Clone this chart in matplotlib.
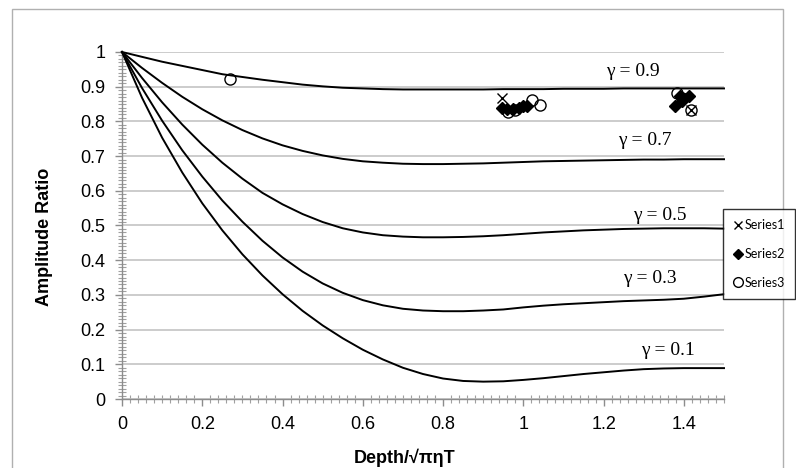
import matplotlib
matplotlib.use("Agg")
import matplotlib.pyplot as plt
from matplotlib.lines import Line2D
from matplotlib.patches import Rectangle
from matplotlib.ticker import MultipleLocator

# normalised depth and amplitude ratio for each gamma curve
depth = [0.00, 0.05, 0.10, 0.15, 0.20, 0.25, 0.30, 0.35, 0.40, 0.45, 0.50,
         0.55, 0.60, 0.65, 0.70, 0.75, 0.80, 0.85, 0.90, 0.95, 1.00,
         1.05, 1.10, 1.15, 1.20, 1.25, 1.30, 1.35, 1.40, 1.45, 1.50]
ratio_g09 = [1.000, 0.986, 0.972, 0.960, 0.948, 0.936, 0.928, 0.920, 0.913, 0.906, 0.901,
             0.897, 0.895, 0.893, 0.892, 0.892, 0.892, 0.892, 0.892, 0.893, 0.893,
             0.893, 0.894, 0.894, 0.894, 0.895, 0.895, 0.895, 0.895, 0.895, 0.895]
ratio_g07 = [1.000, 0.954, 0.911, 0.871, 0.835, 0.803, 0.775, 0.751, 0.731, 0.715, 0.702,
             0.692, 0.685, 0.681, 0.678, 0.677, 0.677, 0.678, 0.679, 0.681, 0.683,
             0.685, 0.686, 0.687, 0.688, 0.689, 0.690, 0.690, 0.691, 0.691, 0.691]
ratio_g05 = [1.000, 0.925, 0.855, 0.791, 0.733, 0.681, 0.635, 0.594, 0.561, 0.533, 0.510,
             0.492, 0.480, 0.472, 0.468, 0.466, 0.466, 0.467, 0.469, 0.472, 0.476,
             0.480, 0.483, 0.486, 0.488, 0.490, 0.491, 0.492, 0.492, 0.492, 0.491]
ratio_g03 = [1.000, 0.896, 0.802, 0.717, 0.641, 0.572, 0.511, 0.456, 0.408, 0.367, 0.333,
             0.306, 0.285, 0.270, 0.260, 0.255, 0.253, 0.253, 0.255, 0.258, 0.264,
             0.269, 0.273, 0.276, 0.279, 0.282, 0.284, 0.286, 0.289, 0.295, 0.302]
ratio_g01 = [1.000, 0.868, 0.753, 0.653, 0.564, 0.486, 0.417, 0.356, 0.302, 0.254, 0.212,
             0.175, 0.142, 0.114, 0.090, 0.072, 0.059, 0.052, 0.050, 0.051, 0.055,
             0.060, 0.066, 0.072, 0.077, 0.082, 0.086, 0.088, 0.089, 0.089, 0.089]

gamma_labels = ["γ = 0.9", "γ = 0.7", "γ = 0.5", "γ = 0.3", "γ = 0.1"]
label_x = [1.273, 1.303, 1.341, 1.316, 1.361]
label_y = [0.943, 0.746, 0.530, 0.346, 0.139]

# measured points
s1_x = [0.948, 1.418]
s1_y = [0.868, 0.833]
s2_x = [0.947, 0.960, 0.975, 0.990, 1.000, 1.010, 1.378, 1.390, 1.395, 1.414]
s2_y = [0.840, 0.836, 0.835, 0.840, 0.845, 0.843, 0.845, 0.873, 0.860, 0.873]
s3_x = [0.270, 0.963, 0.980, 1.021, 1.042, 1.382, 1.395, 1.418]
s3_y = [0.921, 0.828, 0.833, 0.862, 0.847, 0.881, 0.867, 0.833]

SANS = ["Liberation Sans", "DejaVu Sans"]

W, H = 796, 468
fig = plt.figure(figsize=(W / 100, H / 100), dpi=100)
ax = fig.add_axes([122 / W, 1 - 399 / H, (724 - 122) / W, (399 - 52) / H])

# outer chart frame
fig.patches.append(Rectangle((12 / W, -0.01), (783 - 12) / W, 1 - 9 / H + 0.01,
                             transform=fig.transFigure, fill=False,
                             edgecolor="#b0b0b0", linewidth=1.0))

for ratio in [ratio_g09, ratio_g07, ratio_g05, ratio_g03, ratio_g01]:
    ax.plot(depth, ratio, color="black", linewidth=1.4, zorder=3, clip_on=False)

for text, x, y in zip(gamma_labels, label_x, label_y):
    ax.text(x, y, text, ha="center", va="center", fontsize=14,
            family=["Liberation Serif", "DejaVu Serif"])

ax.plot(s2_x, s2_y, linestyle="none", marker="D", markersize=6, color="black", zorder=4)
ax.plot(s3_x, s3_y, linestyle="none", marker="o", markersize=8, markerfacecolor="none",
        markeredgecolor="black", markeredgewidth=1.0, zorder=4)
ax.plot(s1_x, s1_y, linestyle="none", marker="x", markersize=7, color="black",
        markeredgewidth=1.0, zorder=5)

ax.set_xlim(0, 1.5)
ax.set_ylim(0, 1)
ax.xaxis.set_major_locator(MultipleLocator(0.2))
ax.xaxis.set_minor_locator(MultipleLocator(0.02))
ax.yaxis.set_major_locator(MultipleLocator(0.1))
ax.yaxis.set_minor_locator(MultipleLocator(0.01))
ax.xaxis.set_major_formatter(plt.FuncFormatter(lambda v, p: f"{v:g}"))
ax.yaxis.set_major_formatter(plt.FuncFormatter(lambda v, p: f"{v:g}"))

ax.grid(axis="y", which="major", color="#c4c4c4", linewidth=1.2)
ax.set_axisbelow(True)
for side in ["top", "right"]:
    ax.spines[side].set_visible(False)
for side in ["left", "bottom"]:
    ax.spines[side].set_color("#8c8c8c")
    ax.spines[side].set_linewidth(1.0)

ax.tick_params(which="major", direction="out", length=5, width=1.0, color="#8c8c8c",
               labelsize=13, pad=7)
ax.tick_params(which="minor", direction="inout", length=6, width=0.8, color="#a0a0a0")
for lab in ax.get_xticklabels() + ax.get_yticklabels():
    lab.set_family(SANS)

ax.set_ylabel("Amplitude Ratio", fontsize=13, fontweight="bold", family=SANS)
ax.yaxis.set_label_coords((53 - 122) / 602, (399 - 237) / 347)
ax.set_xlabel("Depth/√πηT", fontsize=13, fontweight="bold", family=SANS)
ax.xaxis.set_label_coords((405 - 122) / 602, (399 - 449) / 347)

handles = [
    Line2D([], [], linestyle="none", marker="x", markersize=6, color="black"),
    Line2D([], [], linestyle="none", marker="D", markersize=5, color="black"),
    Line2D([], [], linestyle="none", marker="o", markersize=7, markerfacecolor="none",
           markeredgecolor="black"),
]
leg = fig.legend(handles, ["Series1", "Series2", "Series3"], loc="upper left",
                 bbox_to_anchor=(722.5 / W, 1 - 209 / H),
                 prop={"family": ["Lato", "DejaVu Sans"], "size": 9},
                 frameon=True, fancybox=False, borderpad=0.8, labelspacing=1.35,
                 handlelength=0.8, handletextpad=0.2, borderaxespad=0)
leg.get_frame().set_edgecolor("black")
leg.get_frame().set_linewidth(1.0)

fig.savefig("out.png", dpi=100)
